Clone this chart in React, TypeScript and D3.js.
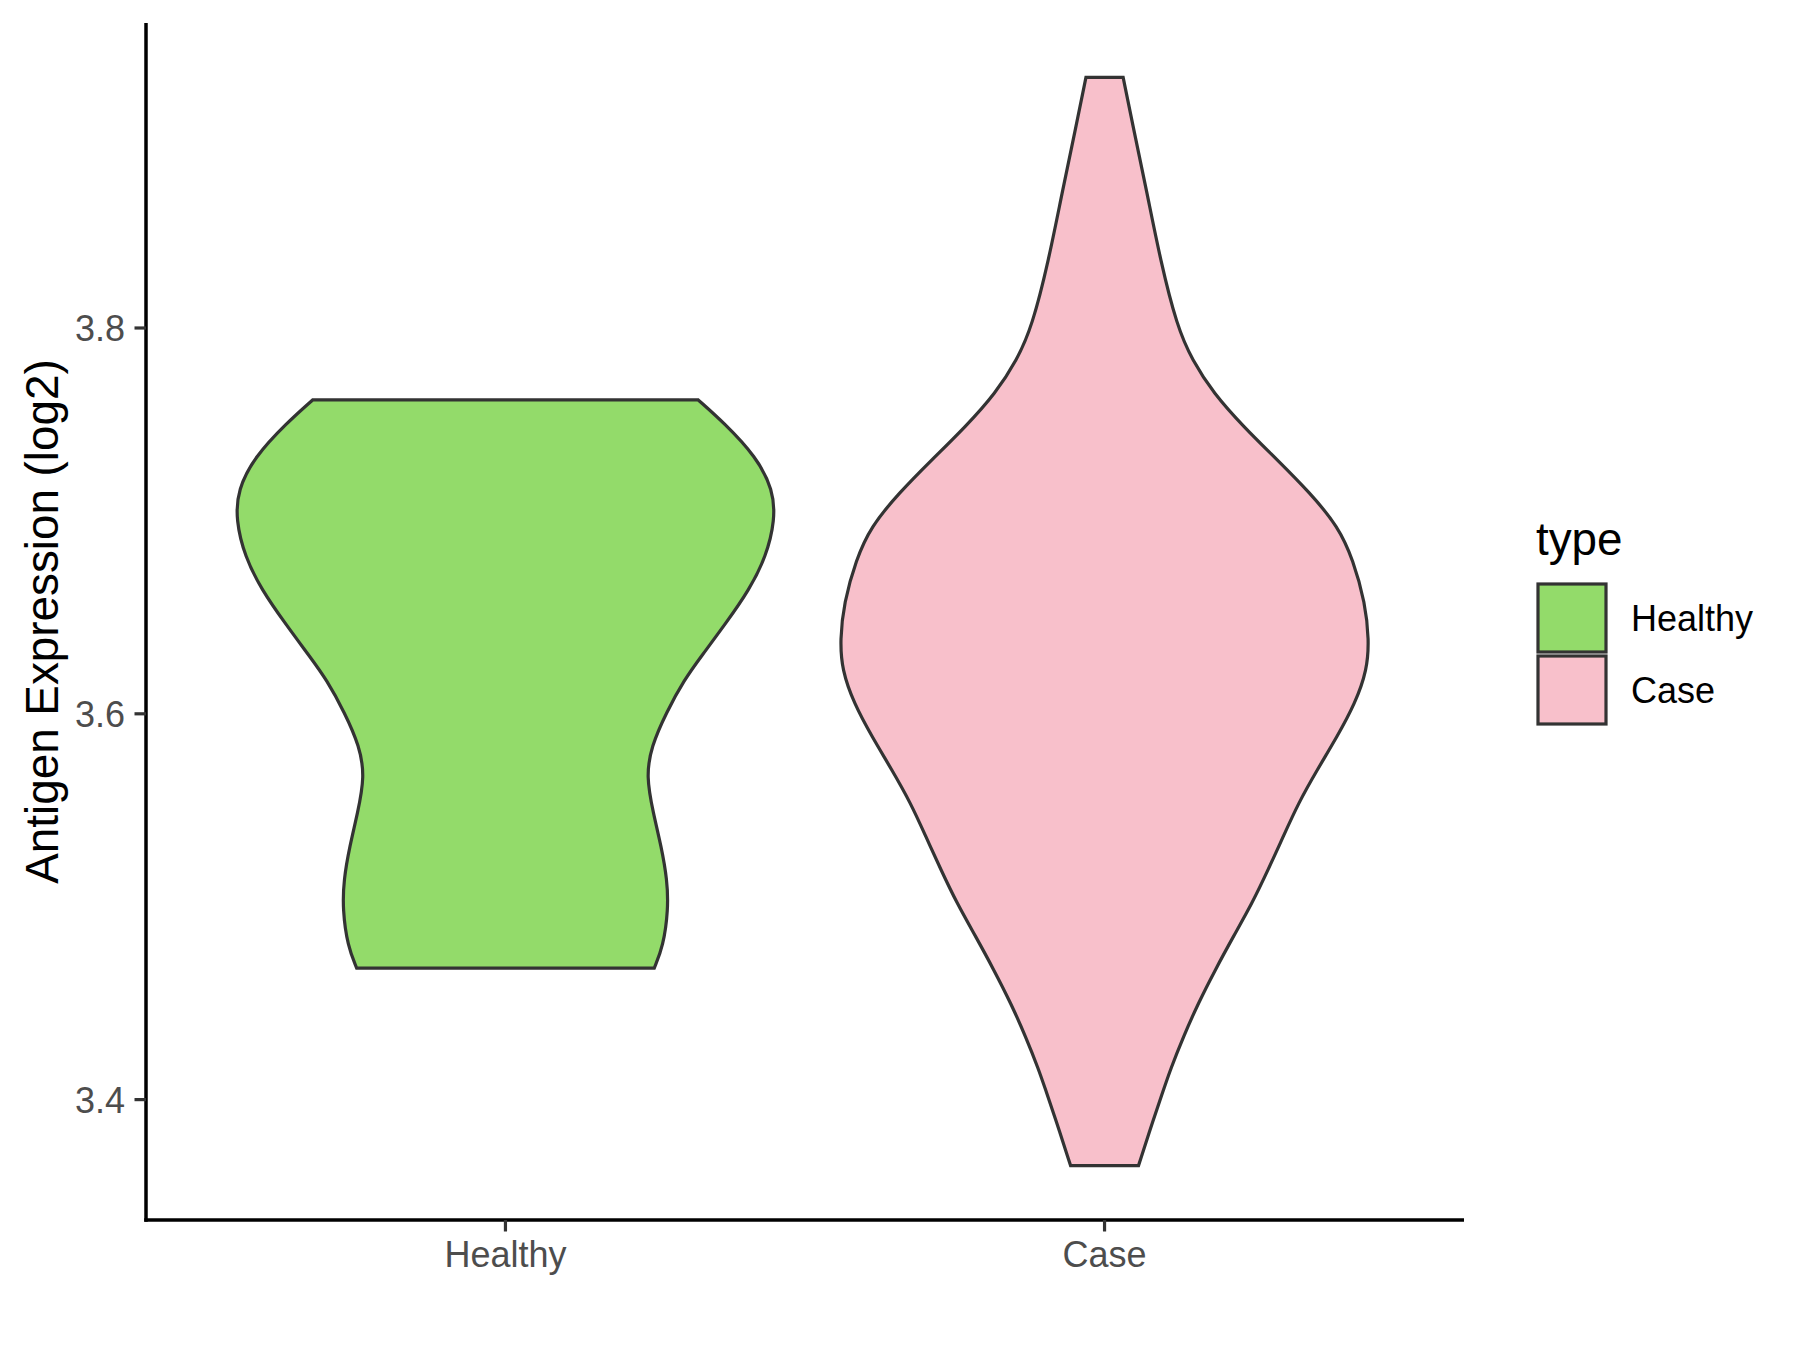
import React from "react";
import * as d3 from "d3";

// ---- data ----
const categories = ["Healthy", "Case"];
const fillColors = ["#93DB6A", "#F8C0CB"];
const yTicks = [3.4, 3.6, 3.8];

// violin profiles: expression value and relative half-width (1 = widest allowed)
const healthyValues = [3.7627, 3.7508, 3.7333, 3.7161, 3.7005, 3.6815, 3.6642, 3.6472, 3.6297, 3.6176, 3.6005, 3.5831, 3.5675, 3.5487, 3.5312, 3.514, 3.4984, 3.4794, 3.4682];
const healthyWidths = [0.715, 0.811, 0.93, 0.993, 1.0, 0.967, 0.904, 0.819, 0.726, 0.663, 0.596, 0.541, 0.522, 0.548, 0.578, 0.6, 0.604, 0.585, 0.552];

const caseValues = [3.9299, 3.9043, 3.8698, 3.8352, 3.8007, 3.7834, 3.7662, 3.7489, 3.7316, 3.7144, 3.697, 3.6798, 3.6574, 3.6383, 3.6228, 3.6055, 3.5882, 3.571, 3.5537, 3.5364, 3.5192, 3.5019, 3.4846, 3.4674, 3.4501, 3.4328, 3.4155, 3.4052, 3.3896, 3.3658];
const caseWidths = [0.069, 0.106, 0.158, 0.207, 0.269, 0.325, 0.404, 0.515, 0.641, 0.763, 0.867, 0.922, 0.967, 0.981, 0.974, 0.93, 0.863, 0.789, 0.719, 0.663, 0.607, 0.548, 0.478, 0.411, 0.348, 0.293, 0.244, 0.219, 0.181, 0.126];

const profiles = [
  { values: healthyValues, widths: healthyWidths },
  { values: caseValues, widths: caseWidths },
];

const W = 1800;
const H = 1350;
const panel = { left: 146, right: 1464, top: 23, bottom: 1220 };
const FONT = "'Liberation Sans', Arial, Helvetica, sans-serif";

export default function App() {
  const allVals = [...healthyValues, ...caseValues];
  const lo = d3.min(allVals) as number;
  const hi = d3.max(allVals) as number;
  const pad = (hi - lo) * 0.05;
  const y = d3.scaleLinear().domain([lo - pad, hi + pad]).range([panel.bottom, panel.top]);
  const x = d3.scaleLinear().domain([0.4, 2.6]).range([panel.left, panel.right]);
  const step = x(2) - x(1);
  const wScale = d3.scaleLinear().domain([0, 1]).range([0, 0.45 * step]);

  const violins = profiles.map((p, i) => {
    const cx = x(i + 1);
    const pts = p.values.map((v, k) => ({ v, w: p.widths[k] }));
    const area = d3
      .area<{ v: number; w: number }>()
      .y((d) => y(d.v))
      .x0((d) => cx - wScale(d.w))
      .x1((d) => cx + wScale(d.w))
      .curve(d3.curveBasis);
    return { d: area(pts) as string, fill: fillColors[i] };
  });

  const tickFont = 36;
  const titleFont = 45.8;

  return (
    <svg width={W} height={H} style={{ position: "absolute", left: 0, top: 0, background: "#fff" }} fontFamily={FONT}>
      <rect x={0} y={0} width={W} height={H} fill="#ffffff" />
      {violins.map((v, i) => (
        <path key={i} d={v.d} fill={v.fill} stroke="#333333" strokeWidth={3.2} strokeLinejoin="miter" />
      ))}
      {/* axes */}
      <line x1={panel.left} x2={panel.left} y1={panel.top} y2={panel.bottom + 1.75} stroke="#000" strokeWidth={3.5} />
      <line x1={panel.left - 1.75} x2={panel.right} y1={panel.bottom} y2={panel.bottom} stroke="#000" strokeWidth={3.5} />
      {yTicks.map((t) => (
        <g key={t}>
          <line x1={panel.left - 11.5} x2={panel.left} y1={y(t)} y2={y(t)} stroke="#333333" strokeWidth={3.2} />
          <text x={panel.left - 21} y={y(t)} dy="0.36em" textAnchor="end" fontSize={tickFont} fill="#4D4D4D">
            {t.toFixed(1)}
          </text>
        </g>
      ))}
      {categories.map((c, i) => (
        <g key={c}>
          <line x1={x(i + 1)} x2={x(i + 1)} y1={panel.bottom} y2={panel.bottom + 11.5} stroke="#333333" strokeWidth={3.2} />
          <text x={x(i + 1)} y={1267} textAnchor="middle" fontSize={tickFont} fill="#4D4D4D">
            {c}
          </text>
        </g>
      ))}
      <text
        transform={`translate(58, ${(panel.top + panel.bottom) / 2}) rotate(-90)`}
        textAnchor="middle"
        fontSize={titleFont}
        fill="#000"
      >
        Antigen Expression (log2)
      </text>
      {/* legend */}
      <text x={1536} y={555} fontSize={titleFont} fill="#000">
        type
      </text>
      {categories.map((c, i) => (
        <g key={c}>
          <rect x={1538} y={584 + i * 72} width={68} height={68} fill={fillColors[i]} stroke="#333333" strokeWidth={3.2} />
          <text x={1631} y={630.5 + i * 72} fontSize={tickFont} fill="#000">
            {c}
          </text>
        </g>
      ))}
    </svg>
  );
}
